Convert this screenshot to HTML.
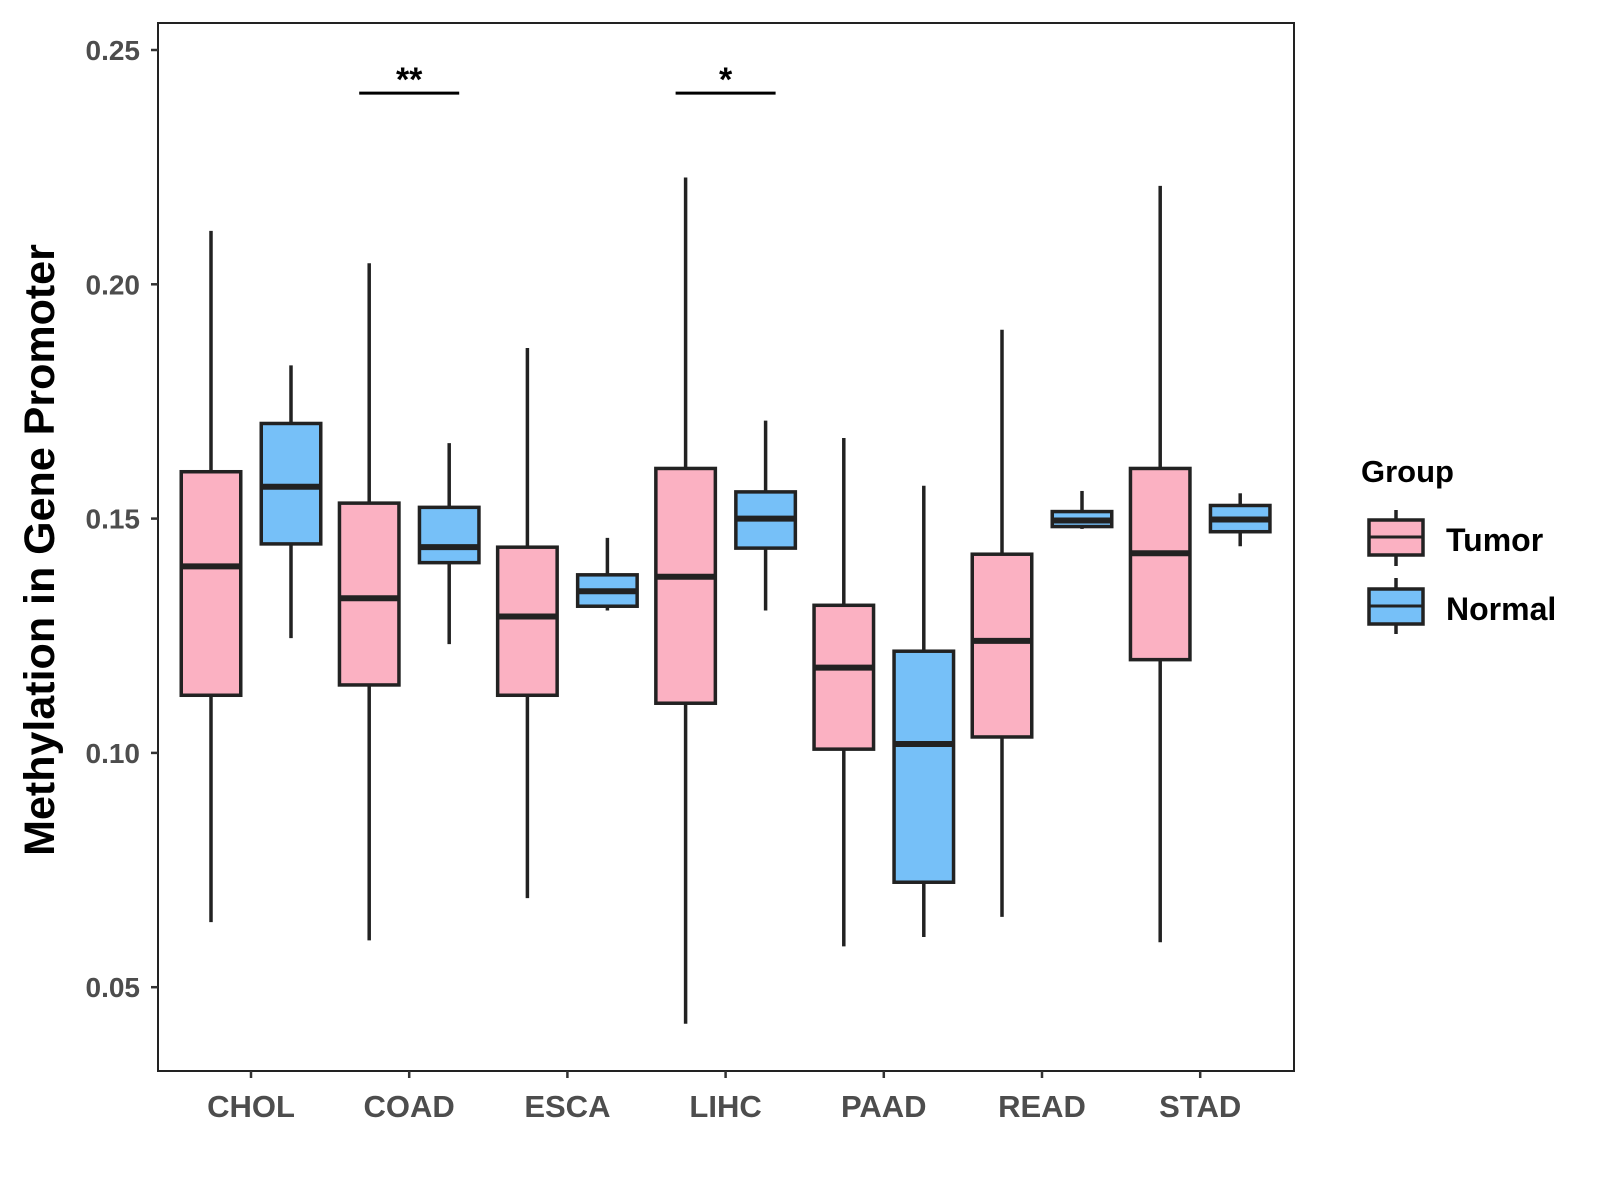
<!DOCTYPE html>
<html><head><meta charset="utf-8"><style>
html,body{margin:0;padding:0;background:#fff;}
svg{display:block;font-family:"Liberation Sans",Arial,sans-serif;}
</style></head><body>
<svg id="chart" width="1600" height="1200" viewBox="0 0 1600 1200">
<rect x="0" y="0" width="1600" height="1200" fill="#fff"/>
<g id="plot"></g>
<rect x="158" y="23" width="1136" height="1048" fill="none" stroke="#222" stroke-width="2"/>
<text x="0" y="0" transform="translate(54,550) rotate(-90)" text-anchor="middle" font-size="43" font-weight="bold" fill="#000">Methylation in Gene Promoter</text>
<g>
<text x="1361" y="482" font-size="31" font-weight="bold" fill="#000">Group</text>
<g>
<line x1="1396" y1="510" x2="1396" y2="566" stroke="#222" stroke-width="3.5"/>
<rect x="1369" y="520" width="54" height="35" fill="#FBB1C2" stroke="#222" stroke-width="3.5"/>
<line x1="1369" y1="537" x2="1423" y2="537" stroke="#222" stroke-width="3"/>
<text x="1446" y="551" font-size="32" font-weight="bold" fill="#000">Tumor</text>
</g>
<g>
<line x1="1396" y1="578" x2="1396" y2="634" stroke="#222" stroke-width="3.5"/>
<rect x="1369" y="589" width="54" height="35" fill="#76C0F8" stroke="#222" stroke-width="3.5"/>
<line x1="1369" y1="606" x2="1423" y2="606" stroke="#222" stroke-width="3"/>
<text x="1446" y="620" font-size="32" font-weight="bold" fill="#000">Normal</text>
</g>
</g>
</svg>
<script>
const categories = ["CHOL","COAD","ESCA","LIHC","PAAD","READ","STAD"];
// [min, q1, median, q3, max]
const tumorStats = [
 [0.0639,0.1123,0.1398,0.1600,0.2114],
 [0.0600,0.1145,0.1330,0.1533,0.2045],
 [0.0690,0.1123,0.1291,0.1439,0.1864],
 [0.0422,0.1106,0.1376,0.1607,0.2228],
 [0.0587,0.1008,0.1182,0.1315,0.1672],
 [0.0650,0.1034,0.1239,0.1424,0.1903],
 [0.0596,0.1199,0.1426,0.1607,0.2210]
];
const normalStats = [
 [0.1245,0.1446,0.1568,0.1703,0.1827],
 [0.1232,0.1406,0.1439,0.1524,0.1661],
 [0.1304,0.1313,0.1345,0.1380,0.1459],
 [0.1304,0.1437,0.1500,0.1557,0.1709],
 [0.0607,0.0724,0.1019,0.1217,0.1570],
 [0.1478,0.1483,0.1496,0.1515,0.1559],
 [0.1441,0.1472,0.1498,0.1528,0.1554]
];
const yTicks = [0.05,0.10,0.15,0.20,0.25];
const yTickLabels = ["0.05","0.10","0.15","0.20","0.25"];
const sigCategories = ["COAD","LIHC"];
const sigLabels = ["**","*"];
const sigValue = 0.2408;

const NS='http://www.w3.org/2000/svg';
const plot=document.getElementById('plot');
const svg=document.getElementById('chart');
function yScale(v){return 50+(0.25-v)/0.05*234.3;}
function xScale(i){return 251+i*158.2;}
function mk(tag,attrs,parent){const e=document.createElementNS(NS,tag);for(const k in attrs)e.setAttribute(k,attrs[k]);(parent||plot).appendChild(e);return e;}

yTicks.forEach((t,i)=>{
 const y=yScale(t);
 const tk=mk('line',{x1:151,x2:158,y1:y,y2:y,stroke:'#333','stroke-width':2.5},svg);
 
 
 const tx=mk('text',{x:140,y:y+10,'text-anchor':'end','font-size':28,'font-weight':'bold',fill:'#4d4d4d'},svg);
 tx.textContent=yTickLabels[i];
 
 
});
categories.forEach((c,i)=>{
 const x=xScale(i);
 const tk=mk('line',{x1:x,x2:x,y1:1071,y2:1078,stroke:'#333','stroke-width':2.5},svg);
 
 
 const tx=mk('text',{x:x,y:1117,'text-anchor':'middle','font-size':31,'font-weight':'bold',fill:'#4d4d4d'},svg);
 tx.textContent=c;
 
 
});
function box(i,s,off,fill,name){
 const cx=xScale(i)+off, w=59.5;
 const g=mk('g',{});
 
 
 mk('line',{x1:cx,x2:cx,y1:yScale(s[0]),y2:yScale(s[4]),stroke:'#222','stroke-width':3.5},g);
 mk('rect',{x:cx-w/2,y:yScale(s[3]),width:w,height:yScale(s[1])-yScale(s[3]),fill:fill,stroke:'#222','stroke-width':3.5},g);
 mk('line',{x1:cx-w/2,x2:cx+w/2,y1:yScale(s[2]),y2:yScale(s[2]),stroke:'#222','stroke-width':6},g);
}
categories.forEach((c,i)=>{
 box(i,tumorStats[i],-40,'#FBB1C2','box-tumor-'+c.toLowerCase());
 box(i,normalStats[i],40,'#76C0F8','box-normal-'+c.toLowerCase());
});
sigCategories.forEach((c,k)=>{
 const i=categories.indexOf(c), y=yScale(sigValue);
 const l=mk('line',{x1:xScale(i)-50,x2:xScale(i)+50,y1:y,y2:y,stroke:'#000','stroke-width':3});
 
 
 const t=mk('text',{x:xScale(i),y:y-2,'text-anchor':'middle','font-size':34,'font-weight':'bold',fill:'#000'});
 t.textContent=sigLabels[k];
 
 
});
</script>
</body></html>
